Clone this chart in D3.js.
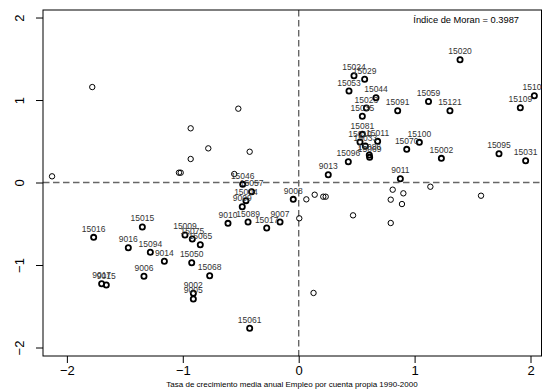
<!DOCTYPE html>
<html><head><meta charset="utf-8">
<script src="https://cdn.jsdelivr.net/npm/d3@7"></script>
<style>body{margin:0;background:#fff}svg{display:block}text{font-family:"Liberation Sans",Arial,sans-serif}</style>
</head><body>
<script>
// unlabeled points (HL / LH quadrants)
const plainX = [-1.781,-2.128,-0.521,-0.932,-0.780,-0.423,-0.932,-1.033,-1.018,-0.556,
  1.136,1.573,0.066,0.138,0.212,0.233,0.005,0.469,0.811,0.903,0.794,0.891,0.794,0.128];
const plainY = [1.157,0.075,0.895,0.657,0.414,0.373,0.285,0.119,0.119,0.103,
  -0.051,-0.160,-0.204,-0.148,-0.172,-0.172,-0.434,-0.398,-0.087,-0.131,-0.208,-0.261,-0.491,-1.339];
// labeled points (HH / LL quadrants)
const labels = ["15020","15024","15029","15053","15044","15023","15035","15091","15059","15121","15101","15109",
  "15081","15010","15011","15033","15086","15069","15096","9013","15070","15100","15002","9011","15095","15031",
  "15016","15015","9016","15094","9014","9006","9017","9015","15009","15075","15065","15050","15068","9002","9005",
  "15061","9010","15089","15017","9007","9008","15046","15057","15004","9009"];
const labX = [1.392,0.477,0.569,0.434,0.667,0.584,0.549,0.854,1.120,1.305,2.033,1.912,
  0.549,0.529,0.681,0.575,0.609,0.612,0.428,0.255,0.932,1.041,1.231,0.877,1.728,1.958,
  -1.769,-1.349,-1.470,-1.280,-1.159,-1.335,-1.700,-1.660,-0.981,-0.918,-0.849,-0.923,-0.768,-0.909,-0.909,
  -0.423,-0.610,-0.437,-0.276,-0.161,-0.047,-0.483,-0.406,-0.455,-0.487];
const labY = [1.488,1.294,1.251,1.109,1.028,0.903,0.803,0.870,0.982,0.870,1.052,0.907,
  0.584,0.491,0.499,0.442,0.333,0.305,0.252,0.095,0.402,0.487,0.293,0.046,0.349,0.264,
  -0.665,-0.539,-0.790,-0.846,-0.955,-1.137,-1.227,-1.242,-0.636,-0.685,-0.754,-0.972,-1.130,-1.343,-1.412,
  -1.767,-0.495,-0.479,-0.552,-0.479,-0.204,-0.022,-0.111,-0.220,-0.293];
const ticks = [-2,-1,0,1,2];
const xTitle = "Tasa de crecimiento media anual Empleo por cuenta propia 1990-2000";
const moranText = "Índice de Moran = 0.3987";

const W = 542, H = 390;
const svg = d3.select("body").append("svg").attr("width", W).attr("height", H);
const x = d3.scaleLinear().domain([-2.2, 2.1]).range([43.7, 542.1]);
const y = d3.scaleLinear().domain([-2.1, 2.09]).range([355.75, 10.1]);
const L = 43, R = 541.5, T = 10, B = 356;

// dashed reference lines
svg.append("line").attr("x1", L).attr("x2", R).attr("y1", y(0)).attr("y2", y(0))
  .attr("stroke", "#666").attr("stroke-width", 1.4).attr("stroke-dasharray", "6.5,3.5");
svg.append("line").attr("x1", x(0)).attr("x2", x(0)).attr("y1", T).attr("y2", B)
  .attr("stroke", "#666").attr("stroke-width", 1.4).attr("stroke-dasharray", "6.5,3.5");

// box
svg.append("rect").attr("x", L).attr("y", T).attr("width", R - L).attr("height", B - T)
  .attr("fill", "none").attr("stroke", "#000").attr("stroke-width", 1);

// axes
const xa = svg.append("g").attr("transform", `translate(0,${B})`)
  .call(d3.axisBottom(x).tickValues(ticks).tickSize(7).tickPadding(3).tickFormat(d3.format("d")));
xa.select(".domain").remove();
xa.selectAll("text").attr("font-size", 13).attr("fill", "#000");
const ya = svg.append("g").attr("transform", `translate(${L},0)`)
  .call(d3.axisLeft(y).tickValues(ticks).tickSize(7).tickFormat(d3.format("d")));
ya.select(".domain").remove();
ya.selectAll("text").attr("font-size", 13).attr("fill", "#000")
  .attr("text-anchor", "middle").attr("x", 0).attr("dy", 0)
  .attr("transform", "translate(-24,0) rotate(-90)").attr("y", 5);

// points
const plain = plainX.map((v, i) => ({x: v, y: plainY[i]}));
svg.append("g").selectAll("circle").data(plain).join("circle")
  .attr("cx", d => x(d.x)).attr("cy", d => y(d.y)).attr("r", 2.7)
  .attr("fill", "none").attr("stroke", "#000").attr("stroke-width", 1);
const lab = labels.map((t, i) => ({t, x: labX[i], y: labY[i]}));
svg.append("g").selectAll("circle").data(lab).join("circle")
  .attr("cx", d => x(d.x)).attr("cy", d => y(d.y)).attr("r", 2.6)
  .attr("fill", "none").attr("stroke", "#000").attr("stroke-width", 1.8);
svg.append("g").selectAll("text").data(lab).join("text")
  .attr("x", d => x(d.x)).attr("y", d => y(d.y) - 5.5)
  .attr("text-anchor", "middle").attr("font-size", 8.5).attr("fill", "#333").text(d => d.t);

// titles
svg.append("text").attr("x", 292).attr("y", 387).attr("text-anchor", "middle")
  .attr("font-size", 8).attr("fill", "#000").text(xTitle);
svg.append("text").attr("x", 519).attr("y", 23).attr("text-anchor", "end")
  .attr("font-size", 9.3).attr("fill", "#000").text(moranText);
</script>
</body></html>
